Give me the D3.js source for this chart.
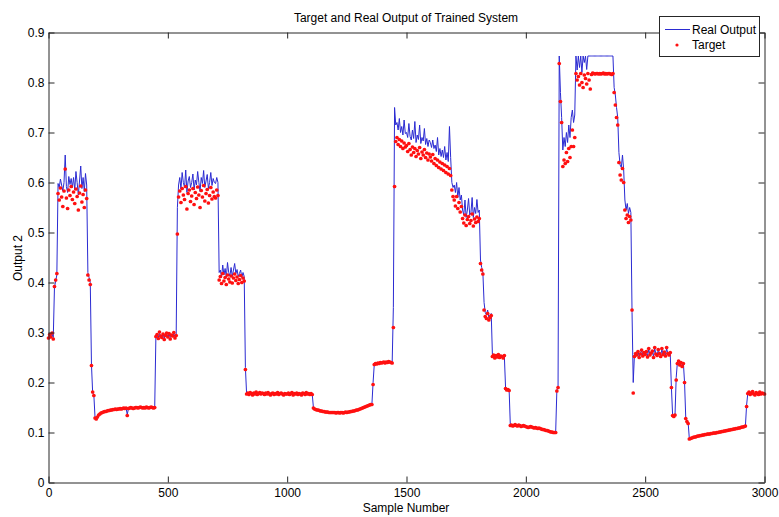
<!DOCTYPE html>
<html>
<head>
<meta charset="utf-8">
<script src="https://cdn.jsdelivr.net/npm/d3@7"></script>
<style>
body { margin: 0; background: #fff; }
text { font-family: "Liberation Sans", Arial, sans-serif; }
</style>
</head>
<body>
<script>
// one value every 5 samples
var sampleStep = 5;

var target = [
	.289,.296,.291,.299,.287,.392,.405,.418,.578,.565,.589,.571,.552,.583,.627,.569,.548,.585,.574,.592,
	.566,.581,.558,.587,.572,.545,.579,.593,.561,.576,.55,.585,.568,.415,.405,.396,.234,.181,.174,.129,
	.127,.131,.135,.137,.139,.14,.141,.142,.142,.143,.144,.144,.145,.145,.146,.146,.147,.146,.147,.147,
	.148,.147,.148,.149,.148,.149,.134,.148,.149,.15,.149,.148,.149,.15,.15,.149,.15,.151,.15,.149,
	.15,.149,.151,.15,.149,.15,.151,.15,.149,.15,.292,.296,.288,.301,.293,.29,.297,.286,.294,.299,
	.291,.298,.287,.295,.293,.3,.289,.294,.497,.571,.583,.56,.588,.575,.566,.592,.547,.578,.585,.562,
	.573,.588,.556,.58,.568,.591,.575,.55,.584,.571,.594,.563,.578,.586,.559,.574,.59,.567,.581,.572,
	.569,.585,.574,.405,.412,.398,.418,.403,.41,.396,.415,.407,.401,.413,.399,.409,.417,.404,.411,.398,
	.406,.414,.4,.409,.403,.226,.177,.179,.176,.18,.178,.175,.179,.177,.181,.176,.178,.18,.177,.179,
	.178,.176,.179,.177,.18,.177,.175,.178,.179,.176,.178,.177,.18,.176,.178,.179,.177,.175,.178,.177,
	.177,.179,.176,.178,.18,.175,.178,.177,.179,.176,.178,.177,.175,.179,.178,.176,.18,.177,.178,.176,
	.178,.176,.149,.147,.146,.145,.145,.144,.143,.143,.142,.142,.141,.141,.141,.14,.14,.14,.14,.14,
	.14,.139,.14,.14,.139,.14,.14,.139,.14,.141,.14,.141,.141,.142,.142,.143,.143,.144,.145,.145,
	.146,.147,.148,.149,.15,.151,.152,.153,.154,.155,.156,.156,.196,.236,.238,.237,.239,.238,.24,.239,
	.24,.241,.239,.241,.24,.242,.241,.24,.239,.31,.592,.682,.69,.676,.686,.672,.683,.668,.679,.671,
	.674,.662,.678,.666,.655,.671,.66,.668,.652,.664,.657,.67,.648,.661,.655,.666,.65,.659,.645,.657,
	.651,.643,.656,.638,.648,.634,.645,.63,.641,.627,.638,.624,.635,.62,.632,.617,.628,.614,.585,.572,
	.565,.553,.572,.548,.56,.541,.552,.528,.519,.535,.514,.526,.532,.518,.524,.537,.513,.527,.52,.531,
	.522,.528,.438,.425,.417,.345,.332,.328,.338,.325,.33,.334,.252,.255,.249,.254,.251,.256,.25,.253,
	.252,.249,.254,.188,.185,.186,.184,.114,.115,.113,.114,.116,.114,.113,.115,.114,.112,.113,.114,.113,
	.112,.111,.11,.111,.112,.111,.11,.109,.11,.109,.108,.109,.108,.107,.106,.106,.105,.104,.104,.103,
	.102,.101,.101,.1,.1,.1,.183,.19,.838,.762,.72,.632,.645,.638,.66,.642,.668,.65,.672,.705,
	.672,.69,.818,.805,.812,.795,.818,.8,.79,.815,.808,.797,.818,.805,.787,.816,.819,.818,.817,.818,
	.818,.817,.818,.817,.818,.819,.817,.818,.817,.818,.818,.817,.816,.818,.78,.755,.73,.715,.64,.615,
	.605,.628,.6,.545,.528,.535,.52,.532,.525,.345,.179,.252,.258,.255,.262,.25,.257,.265,.253,.26,
	.256,.262,.251,.268,.255,.259,.263,.25,.27,.257,.254,.266,.258,.252,.268,.256,.261,.253,.27,.258,
	.255,.26,.19,.134,.132,.135,.205,.238,.243,.235,.24,.232,.238,.2,.128,.122,.118,.087,.088,.089,
	.09,.091,.091,.092,.093,.093,.094,.094,.095,.095,.096,.096,.097,.097,.097,.098,.098,.099,.099,.099,
	.1,.1,.101,.101,.102,.102,.103,.103,.104,.104,.105,.105,.106,.106,.107,.107,.108,.108,.109,.109,
	.11,.111,.111,.112,.113,.152,.178,.181,.176,.179,.182,.177,.175,.18,.178,.176,.181,.177,.179,.178,
	.177
];

var realOutput = [
	.291,.294,.293,.297,.29,.39,.403,.415,.598,.59,.607,.595,.583,.6,.655,.592,.58,.612,.596,.608,
	.59,.61,.585,.622,.6,.575,.603,.633,.588,.61,.582,.618,.595,.42,.41,.4,.236,.18,.175,.13,
	.128,.131,.134,.137,.139,.14,.141,.141,.142,.143,.143,.144,.145,.145,.145,.146,.146,.146,.147,.147,
	.148,.148,.148,.149,.148,.149,.136,.148,.149,.149,.149,.149,.149,.15,.15,.149,.15,.15,.15,.149,
	.15,.15,.15,.15,.15,.15,.15,.15,.15,.15,.293,.295,.29,.298,.294,.291,.296,.289,.293,.297,
	.292,.296,.29,.294,.293,.298,.291,.293,.55,.595,.61,.587,.62,.6,.59,.625,.58,.603,.612,.59,
	.6,.617,.585,.605,.595,.622,.6,.582,.61,.598,.624,.59,.603,.616,.588,.6,.62,.594,.608,.6,
	.598,.61,.6,.42,.425,.41,.435,.415,.428,.41,.44,.42,.413,.43,.412,.425,.438,.418,.426,.412,
	.418,.425,.41,.42,.412,.23,.178,.178,.177,.179,.178,.176,.178,.177,.18,.177,.178,.179,.177,.178,
	.178,.177,.178,.177,.179,.177,.176,.178,.178,.177,.178,.177,.179,.177,.178,.178,.177,.176,.178,.177,
	.177,.178,.177,.178,.179,.176,.178,.177,.178,.177,.178,.177,.176,.178,.178,.177,.179,.177,.178,.177,
	.178,.177,.15,.147,.146,.145,.145,.144,.143,.143,.142,.142,.141,.141,.141,.14,.14,.14,.14,.14,
	.14,.14,.14,.14,.14,.14,.14,.14,.14,.141,.141,.141,.141,.142,.142,.143,.143,.144,.145,.145,
	.146,.147,.148,.149,.15,.151,.152,.153,.154,.155,.156,.156,.2,.236,.238,.238,.239,.238,.24,.239,
	.24,.241,.24,.241,.24,.242,.241,.24,.24,.35,.75,.715,.72,.705,.728,.7,.712,.695,.725,.698,
	.7,.69,.718,.692,.685,.705,.688,.722,.68,.695,.686,.715,.678,.69,.683,.708,.676,.688,.672,.685,
	.68,.67,.685,.668,.675,.662,.69,.655,.668,.652,.665,.65,.672,.645,.66,.642,.712,.65,.6,.59,
	.595,.58,.6,.57,.59,.565,.575,.545,.535,.565,.53,.545,.568,.535,.54,.57,.53,.55,.538,.566,
	.54,.545,.445,.43,.42,.36,.34,.335,.345,.33,.335,.338,.255,.256,.25,.255,.252,.256,.251,.254,
	.252,.25,.253,.19,.186,.186,.185,.115,.115,.114,.114,.115,.114,.114,.114,.114,.113,.113,.114,.113,
	.112,.111,.111,.111,.111,.111,.11,.11,.11,.109,.109,.109,.108,.107,.106,.106,.105,.104,.104,.103,
	.102,.101,.101,.1,.1,.1,.185,.19,.853,.78,.73,.665,.69,.672,.7,.68,.715,.69,.73,.745,
	.72,.735,.853,.825,.853,.83,.853,.82,.853,.84,.853,.826,.853,.853,.853,.853,.853,.853,.853,.853,
	.853,.853,.853,.853,.853,.853,.853,.853,.853,.853,.853,.853,.853,.853,.79,.775,.75,.73,.66,.635,
	.63,.655,.625,.565,.545,.558,.538,.55,.54,.34,.2,.255,.26,.256,.262,.252,.258,.264,.255,.26,
	.257,.262,.253,.266,.256,.259,.262,.252,.268,.257,.255,.265,.258,.254,.266,.257,.26,.255,.268,.258,
	.256,.258,.19,.135,.133,.135,.21,.24,.245,.238,.242,.235,.24,.2,.13,.124,.12,.088,.088,.089,
	.09,.091,.091,.092,.093,.093,.094,.094,.095,.095,.096,.096,.097,.097,.097,.098,.098,.099,.099,.099,
	.1,.1,.101,.101,.102,.102,.103,.103,.104,.104,.105,.105,.106,.106,.107,.107,.108,.108,.109,.109,
	.11,.111,.111,.112,.113,.155,.178,.18,.177,.179,.18,.178,.176,.179,.178,.177,.18,.178,.179,.178,
	.177
];

var xTicks = [0, 500, 1000, 1500, 2000, 2500, 3000];
var yTicks = [0, 0.1, 0.2, 0.3, 0.4, 0.5, 0.6, 0.7, 0.8, 0.9];

var width = 779;
var height = 517;
var plotLeft = 48.5, plotRight = 764.5, plotTop = 32.5, plotBottom = 482.5;
var axisColor = '#262626';
var lineColor = '#2b2bd2';
var dotColor = '#ff1010';
var dotRadius = 1.85;

var x = d3.scaleLinear().domain([0, 3000]).range([plotLeft, plotRight]);
var y = d3.scaleLinear().domain([0, 0.9]).range([plotBottom, plotTop]);

var svg = d3.select('body').append('svg')
	.attr('width', width)
	.attr('height', height);

// real output line first, target dots go on top
var line = d3.line()
	.x(function(d, i) { return x(i * sampleStep); })
	.y(function(d) { return y(d); });

svg.append('path')
	.datum(realOutput)
	.attr('fill', 'none')
	.attr('stroke', lineColor)
	.attr('stroke-width', 1)
	.attr('d', line);

svg.append('g').selectAll('circle')
	.data(target)
	.enter()
	.append('circle')
	.attr('cx', function(d, i) { return x(i * sampleStep); })
	.attr('cy', function(d) { return y(d); })
	.attr('r', dotRadius)
	.attr('fill', dotColor);

// axes, ticks pointing inwards on all four sides
svg.append('g')
	.attr('transform', 'translate(0,' + plotBottom + ')')
	.call(d3.axisBottom(x).tickValues(xTicks).tickFormat(function(d) { return d; })
		.tickSize(-6).tickSizeOuter(0).tickPadding(6));
svg.append('g')
	.attr('transform', 'translate(' + plotLeft + ',0)')
	.call(d3.axisLeft(y).tickValues(yTicks).tickFormat(function(d) { return d; })
		.tickSize(-6).tickSizeOuter(0).tickPadding(4));
svg.append('g')
	.attr('transform', 'translate(0,' + plotTop + ')')
	.call(d3.axisTop(x).tickValues(xTicks).tickFormat('').tickSize(-6).tickSizeOuter(0));
svg.append('g')
	.attr('transform', 'translate(' + plotRight + ',0)')
	.call(d3.axisRight(y).tickValues(yTicks).tickFormat('').tickSize(-6).tickSizeOuter(0));

svg.selectAll('.domain, .tick line').attr('stroke', axisColor);
svg.selectAll('.tick text')
	.attr('fill', '#000')
	.style('font-size', '12px')
	.style('font-family', '"Liberation Sans", Arial, sans-serif');

svg.append('text')
	.attr('x', 406)
	.attr('y', 22)
	.attr('text-anchor', 'middle')
	.style('font-size', '12px')
	.text('Target and Real Output of Trained System');

svg.append('text')
	.attr('x', 406)
	.attr('y', 512)
	.attr('text-anchor', 'middle')
	.style('font-size', '12px')
	.text('Sample Number');

svg.append('text')
	.attr('transform', 'translate(22,258) rotate(-90)')
	.attr('text-anchor', 'middle')
	.style('font-size', '12px')
	.text('Output 2');

// legend
var legend = svg.append('g');
legend.append('rect')
	.attr('x', 659.5)
	.attr('y', 16.5)
	.attr('width', 100)
	.attr('height', 40)
	.attr('fill', '#fff')
	.attr('stroke', axisColor);
legend.append('line')
	.attr('x1', 665)
	.attr('x2', 690)
	.attr('y1', 29.5)
	.attr('y2', 29.5)
	.attr('stroke', lineColor)
	.attr('stroke-width', 1);
legend.append('circle')
	.attr('cx', 677)
	.attr('cy', 45)
	.attr('r', 1.6)
	.attr('fill', dotColor);
legend.append('text')
	.attr('x', 692)
	.attr('y', 34)
	.style('font-size', '12px')
	.text('Real Output');
legend.append('text')
	.attr('x', 692)
	.attr('y', 49)
	.style('font-size', '12px')
	.text('Target');
</script>
</body>
</html>
